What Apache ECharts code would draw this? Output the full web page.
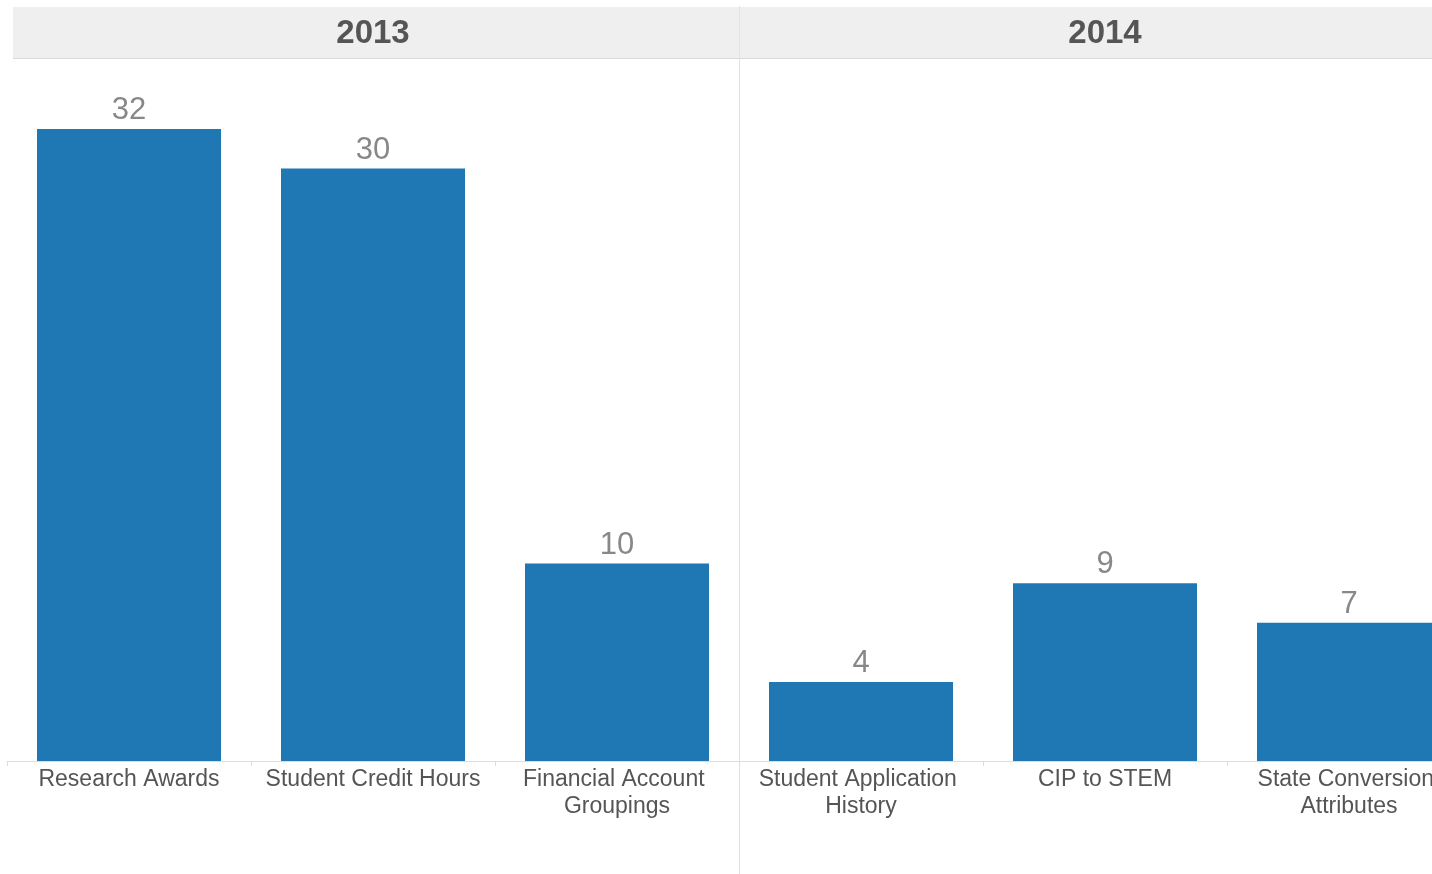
<!DOCTYPE html>
<html>
<head>
<meta charset="utf-8">
<script src="https://cdn.jsdelivr.net/npm/echarts@6/dist/echarts.min.js"></script>
<style>
html,body{margin:0;padding:0;background:#fff;}
#chart{width:1432px;height:874px;}
</style>
</head>
<body>
<div id="chart"></div>
<script>
const years = ['2013', '2014'];
const categories = ['Research Awards', 'Student Credit Hours', 'Financial Account Groupings',
                    'Student Application History', 'CIP to STEM', 'State Conversion Attributes'];
const values = [32, 30, 10, 4, 9, 7];

const FONT = '"Liberation Sans", Arial, sans-serif';
const chart = echarts.init(document.getElementById('chart'), null, {renderer: 'canvas'});

chart.setOption({
  animation: false,
  backgroundColor: '#ffffff',
  grid: {left: 7, top: 69.75, width: 1464, height: 691.25, containLabel: false, outerBoundsMode: 'none'},
  graphic: [
    {type: 'rect', z: -10, shape: {x: 13, y: 7, width: 1419, height: 51}, style: {fill: '#efefef'}},
    {type: 'line', z: -9, shape: {x1: 13, y1: 58.5, x2: 1432, y2: 58.5}, style: {stroke: '#d9d9d9', lineWidth: 1}},
    {type: 'line', z: -9, shape: {x1: 739.5, y1: 6, x2: 739.5, y2: 874}, style: {stroke: '#e2e2e2', lineWidth: 1}}
  ],
  xAxis: [
    {
      type: 'category',
      data: categories,
      position: 'bottom',
      axisLine: {show: true, lineStyle: {color: '#dddddd', width: 1}},
      axisTick: {show: true, length: 5, lineStyle: {color: '#dddddd'}},
      axisLabel: {
        interval: 0, margin: 5, color: '#555555', fontFamily: FONT, fontSize: 23,
        lineHeight: 27, width: 224, overflow: 'break', align: 'center'
      },
      splitLine: {show: false}
    },
    {
      type: 'category',
      data: years,
      position: 'top',
      axisLine: {show: false},
      axisTick: {show: false},
      axisLabel: {interval: 0, margin: 19, color: '#555555', fontFamily: FONT, fontSize: 33, fontWeight: 'bold'},
      splitLine: {show: false}
    }
  ],
  yAxis: {
    type: 'value', min: 0, max: 35, show: false, splitLine: {show: false}
  },
  series: [{
    type: 'bar',
    xAxisIndex: 0,
    data: values,
    barWidth: 184,
    itemStyle: {color: '#1f77b4'},
    label: {show: true, position: 'top', distance: 3, color: '#888888', fontFamily: FONT, fontSize: 31}
  }]
});
</script>
</body>
</html>
